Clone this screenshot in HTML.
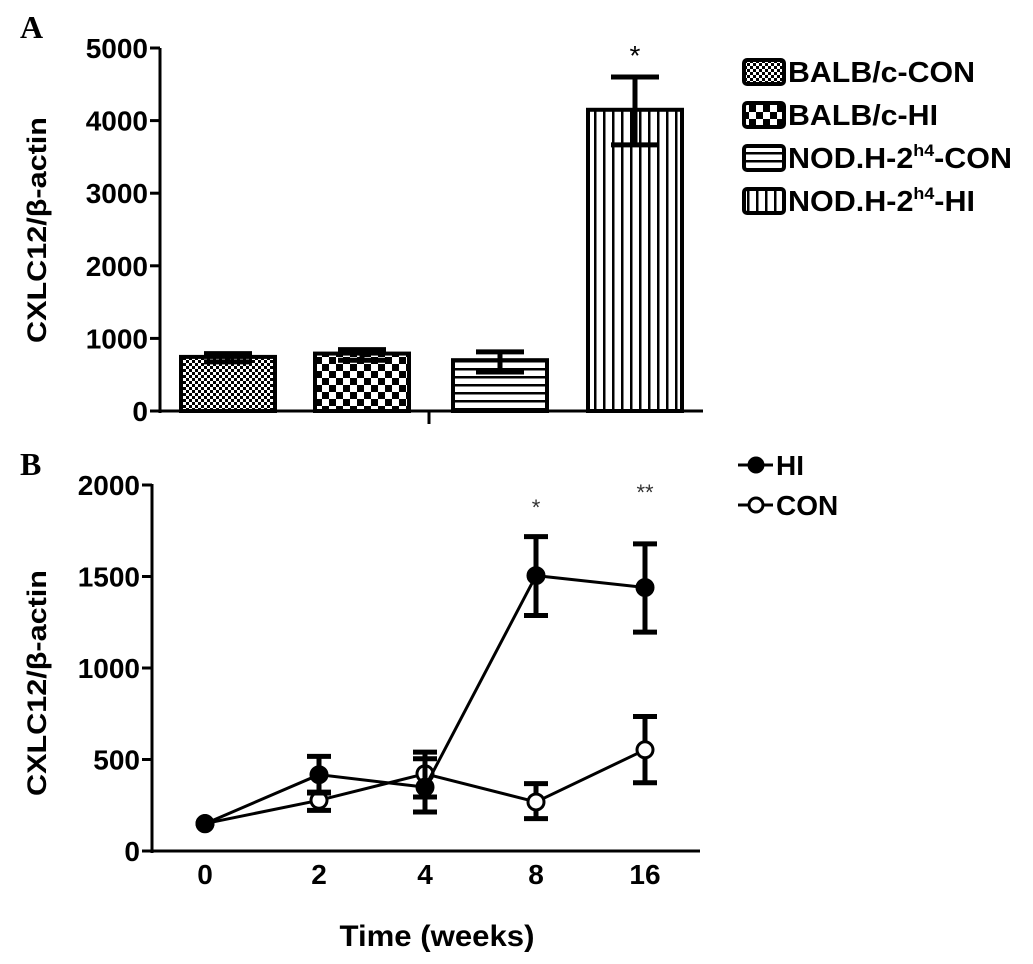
<!DOCTYPE html>
<html><head><meta charset="utf-8"><style>
html,body{margin:0;padding:0;background:#fff;}
svg{display:block;font-family:"Liberation Sans",sans-serif;}
</style></head><body>
<svg id="fig" width="1033" height="964" viewBox="0 0 1033 964" xmlns="http://www.w3.org/2000/svg">
<defs>
<pattern id="p1" width="6" height="6" patternUnits="userSpaceOnUse"><rect width="6" height="6" fill="#fff"/><rect width="3" height="3" fill="#000"/><rect x="3" y="3" width="3" height="3" fill="#000"/></pattern>
<pattern id="p2" width="14" height="14" patternUnits="userSpaceOnUse"><rect width="14" height="14" fill="#fff"/><rect width="7" height="7" fill="#000"/><rect x="7" y="7" width="7" height="7" fill="#000"/></pattern>
<pattern id="p3" width="8" height="8" patternUnits="userSpaceOnUse"><rect width="8" height="8" fill="#fff"/><rect y="0" width="8" height="2.5" fill="#000"/></pattern>
<pattern id="p4" width="9" height="9" patternUnits="userSpaceOnUse"><rect width="9" height="9" fill="#fff"/><rect x="0" width="2.5" height="9" fill="#000"/></pattern>
</defs>
<text x="20" y="38" font-family="Liberation Serif,serif" font-weight="bold" font-size="32">A</text>
<text x="20" y="475" font-family="Liberation Serif,serif" font-weight="bold" font-size="32">B</text>
<g id="ga"></g>
<g id="gb"></g>
</svg>
<script>
const NS="http://www.w3.org/2000/svg";
// Panel A data
const barCategories=["BALB/c-CON","BALB/c-HI","NOD.H-2h4-CON","NOD.H-2h4-HI"];
const barValues=[745,791,700,4149];
const barErrHigh=[791,846,814,4600];
const barErrLow=[676,699,538,3666];
const aTicks=[0,1000,2000,3000,4000,5000];
// Panel B data
const timeLabels=["0","2","4","8","16"];
const hiValues=[149,417,349,1505,1440];
const hiErrHigh=[149,517,504,1718,1678];
const hiErrLow=[149,317,295,1287,1196];
const conValues=[150,277,422,268,553];
const conErrHigh=[150,322,540,368,735];
const conErrLow=[150,222,213,177,373];
const bTicks=[0,500,1000,1500,2000];

function el(tag,attrs,parent){const e=document.createElementNS(NS,tag);for(const k in attrs)e.setAttribute(k,attrs[k]);parent.appendChild(e);return e;}
const ga=document.getElementById('ga'), gb=document.getElementById('gb');

// ---- Panel A ----
const aY=v=>411-(v/5000)*363;
const aBarX=[181,315,453,588], aBarW=94;
const pats=["url(#p1)","url(#p2)","url(#p3)","url(#p4)"];
barValues.forEach((v,i)=>{
  const r=el('rect',{x:aBarX[i],y:aY(v),width:aBarW,height:411-aY(v),fill:pats[i],stroke:'#000','stroke-width':4},ga);
  
  
  const cx=aBarX[i]+aBarW/2;
  const e=el('path',{d:`M${cx},${aY(barErrLow[i])}V${aY(barErrHigh[i])}M${cx-24},${aY(barErrHigh[i])}h48M${cx-24},${aY(barErrLow[i])}h48`,stroke:'#000','stroke-width':5,fill:'none'},ga);
  
  
});
el('path',{d:'M160,48V413M158,411H703M429,411V424',stroke:'#000','stroke-width':3,fill:'none'},ga);
aTicks.forEach(t=>{
  el('path',{d:`M150,${aY(t)}H160`,stroke:'#000','stroke-width':3},ga);
  const tx=el('text',{x:148,y:aY(t)+10,'text-anchor':'end','font-weight':'bold','font-size':28},ga);
  tx.textContent=t;
  
  
});
const ayt=el('text',{transform:'translate(46,230) rotate(-90)','text-anchor':'middle','font-weight':'bold','font-size':27,textLength:226,lengthAdjust:'spacingAndGlyphs'},ga);
ayt.textContent='CXLC12/β-actin';


const st=el('text',{x:635,y:65,'text-anchor':'middle','font-size':28},ga);
st.textContent='*';


// legend A
const legY=[72,115,158,201];
const legLen=[187,150,224,187];
barCategories.forEach((c,i)=>{
  const g=el('g',{},ga);
  
  
  el('rect',{x:744,y:legY[i]-12,width:40,height:24,rx:3,fill:pats[i],stroke:'#000','stroke-width':4},g);
  const t=el('text',{x:788,y:legY[i]+10,'font-weight':'bold','font-size':29,textLength:legLen[i],lengthAdjust:'spacingAndGlyphs'},g);
  if(i<2){t.textContent=c;}else{
    t.appendChild(document.createTextNode('NOD.H-2'));
    const s=el('tspan',{'font-size':17,dy:-12},t);s.textContent='h4';
    const s2=el('tspan',{dy:12},t);s2.textContent=i==2?'-CON':'-HI';
  }
});

// ---- Panel B ----
const bY=v=>851-(v/2000)*366;
const bXpos=[205,319,425,536,645];
el('path',{d:'M152,484V853M150,851H700',stroke:'#000','stroke-width':3,fill:'none'},gb);
bTicks.forEach(t=>{
  el('path',{d:`M142,${bY(t)}H152`,stroke:'#000','stroke-width':3},gb);
  const tx=el('text',{x:140,y:bY(t)+10,'text-anchor':'end','font-weight':'bold','font-size':28},gb);
  tx.textContent=t;
  
  
});
timeLabels.forEach((l,i)=>{
  const tx=el('text',{x:bXpos[i],y:884,'text-anchor':'middle','font-weight':'bold','font-size':28},gb);
  tx.textContent=l;
  
  
});
const xt=el('text',{x:437,y:946,'text-anchor':'middle','font-weight':'bold','font-size':30,textLength:195,lengthAdjust:'spacingAndGlyphs'},gb);
xt.textContent='Time (weeks)';


const byt=el('text',{transform:'translate(46,683) rotate(-90)','text-anchor':'middle','font-weight':'bold','font-size':27,textLength:226,lengthAdjust:'spacingAndGlyphs'},gb);
byt.textContent='CXLC12/β-actin';


function series(vals,hi,lo,filled,name){
  const g=el('g',{},gb);
  
  
  el('polyline',{points:vals.map((v,i)=>bXpos[i]+','+bY(v)).join(' '),fill:'none',stroke:'#000','stroke-width':3},g);
  vals.forEach((v,i)=>{
    const x=bXpos[i];
    if(hi[i]!==lo[i]) el('path',{d:`M${x},${bY(lo[i])}V${bY(hi[i])}M${x-12},${bY(hi[i])}h24M${x-12},${bY(lo[i])}h24`,stroke:'#000','stroke-width':5,fill:'none'},g);
    const c=el('circle',{cx:x,cy:bY(v),r:8,fill:filled?'#000':'#fff',stroke:'#000','stroke-width':3},g);
    
    
  });
}
series(conValues,conErrHigh,conErrLow,false,'con-series');
series(hiValues,hiErrHigh,hiErrLow,true,'hi-series');
const s1=el('text',{x:bXpos[3],y:515,'text-anchor':'middle','font-size':22,fill:'#333'},gb);s1.textContent='*';


const s2=el('text',{x:bXpos[4],y:500,'text-anchor':'middle','font-size':22,fill:'#333'},gb);s2.textContent='**';


[['HI',465,true],['CON',505,false]].forEach(([l,y,f])=>{
  const g=el('g',{},gb);
  
  
  el('path',{d:`M738,${y}H773`,stroke:'#000','stroke-width':3},g);
  el('circle',{cx:756,cy:y,r:7,fill:f?'#000':'#fff',stroke:'#000','stroke-width':3},g);
  const t=el('text',{x:776,y:y+10,'font-weight':'bold','font-size':28},g);t.textContent=l;
});
</script>
</body></html>
